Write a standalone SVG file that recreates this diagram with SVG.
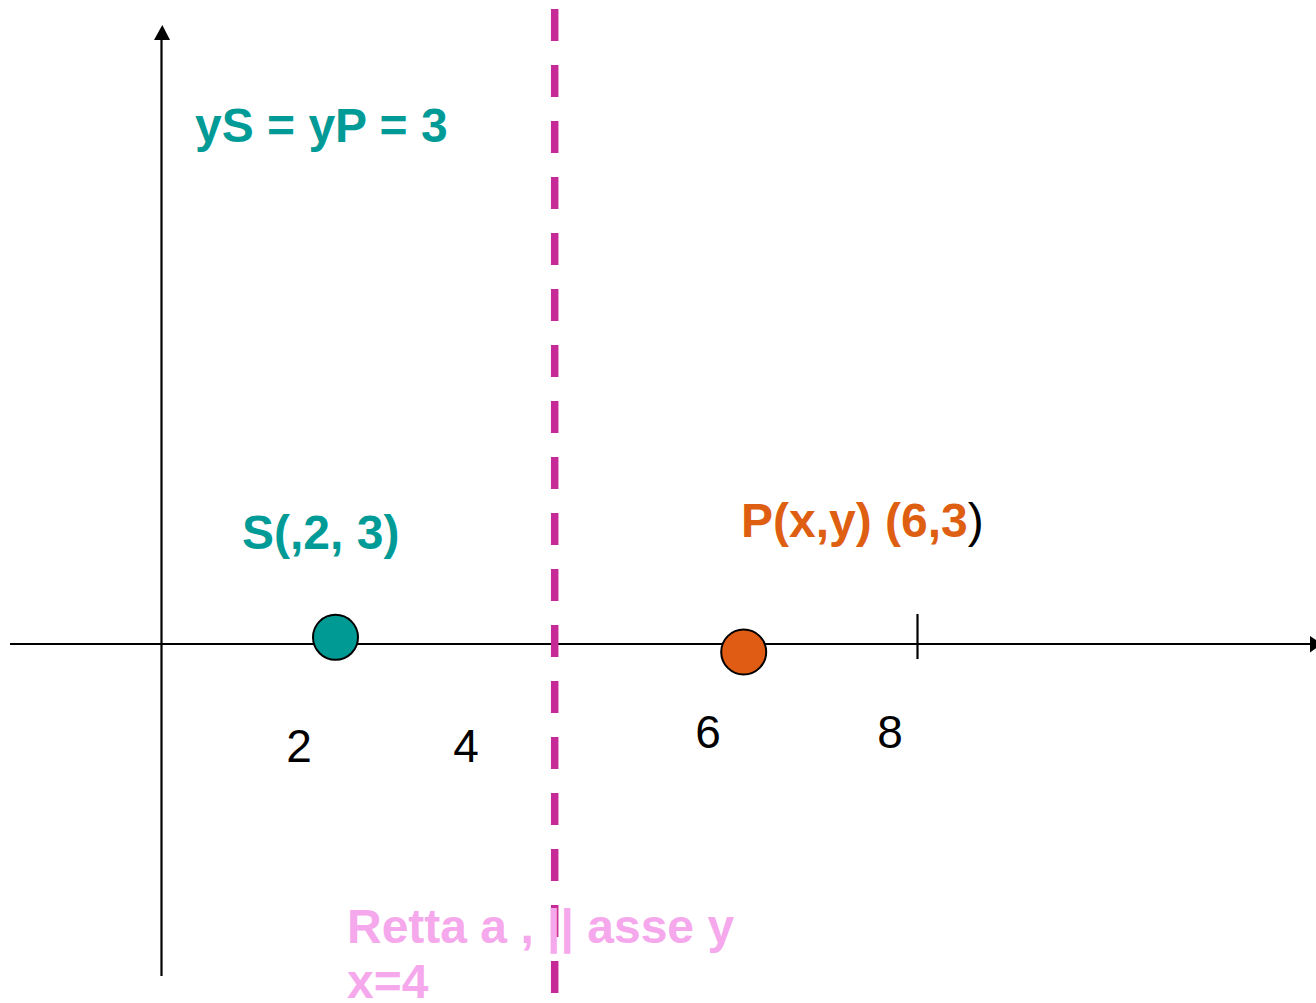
<svg xmlns="http://www.w3.org/2000/svg" width="1316" height="1003" viewBox="0 0 1316 1003">
<style>
.axis{stroke:#000;stroke-width:2.2;fill:none}
.lbl{font-family:"Liberation Sans",Arial,sans-serif;font-size:46px;fill:#000}
.b{font-family:"Liberation Sans",Arial,sans-serif;font-size:48px;font-weight:bold}
.teal{fill:#009B96}
.orange{fill:#DE5E12}
.pink{fill:#F5A8EC}
</style>
<rect width="1316" height="1003" fill="#fff"/>
<g id="connectors">
<line class="axis" x1="10" y1="644" x2="1312" y2="644"/>
<polygon points="1310,636 1322,644 1310,652.5" fill="#000"/>
<line class="axis" x1="161.5" y1="976" x2="161.5" y2="38"/>
<polygon points="154,40 162.3,25 170,40" fill="#000"/>
<line class="axis" x1="917.5" y1="614" x2="917.5" y2="659"/>
</g>
<g id="axis-labels">
<text class="lbl" x="299" y="762" text-anchor="middle">2</text>
<text class="lbl" x="466" y="762" text-anchor="middle">4</text>
<text class="lbl" x="708" y="748" text-anchor="middle">6</text>
<text class="lbl" x="890" y="748" text-anchor="middle">8</text>
</g>
<g id="line-a">
<line x1="554.7" y1="9" x2="554.7" y2="1003" stroke="#C62A97" stroke-width="7.5" stroke-dasharray="32 24"/>
</g>
<g id="point-S">
<circle cx="335.5" cy="637.3" r="22.5" fill="#009A95" stroke="#000" stroke-width="2"/>
<text class="b teal" x="242" y="549">S(,2, 3)</text>
</g>
<g id="point-P">
<circle cx="743.7" cy="652" r="22.5" fill="#E05C14" stroke="#000" stroke-width="2"/>
<text class="b" x="741" y="537"><tspan class="orange">P(x,y) (6,3</tspan><tspan font-weight="normal" fill="#000">)</tspan></text>
</g>
<g id="equation">
<text class="b teal" x="195" y="142">yS = yP = 3</text>
</g>
<g id="retta-label">
<text class="b pink" x="347" y="943">Retta a , || asse y</text>
<text class="b pink" x="347" y="998">x=4</text>
</g>
</svg>
